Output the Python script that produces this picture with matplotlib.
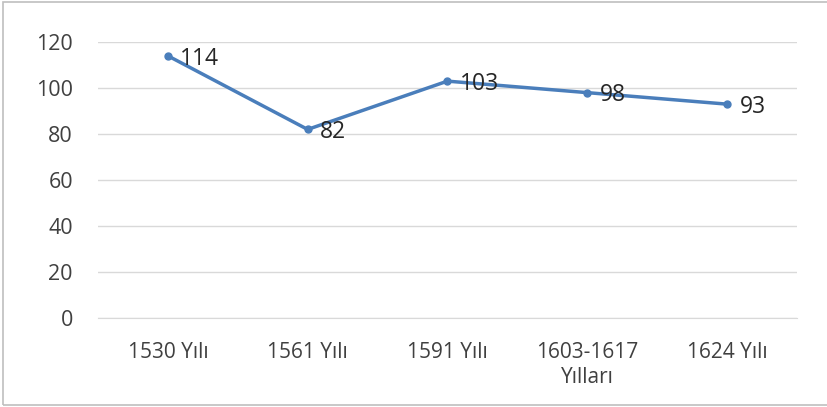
import matplotlib.pyplot as plt
from matplotlib.patches import Rectangle

categories = ["1530 Yılı", "1561 Yılı", "1591 Yılı", "1603-1617\nYılları", "1624 Yılı"]
values = [114, 82, 103, 98, 93]
y_ticks = [0, 20, 40, 60, 80, 100, 120]

plt.rcParams["font.family"] = ["Open Sans", "DejaVu Sans"]

fig = plt.figure(figsize=(8.27, 4.07), dpi=100)
ax = fig.add_axes([0.1185, 0.2187, 0.845, 0.678])

# outer chart frame
fig.patches.append(Rectangle((0.004, 0.005), 1.2, 0.99, transform=fig.transFigure,
                             fill=False, edgecolor="#bfbfbf", linewidth=1.2))

x = list(range(len(categories)))
ax.plot(x, values, color="#4a7ebb", linewidth=2.5, marker="o", markersize=5)

for xi, v in zip(x, values):
    ax.annotate(str(v), (xi, v), xytext=(9, -2), textcoords="offset points",
                ha="left", va="center", fontsize=16.5, color="#262626")

ax.set_xlim(-0.5, len(categories) - 0.5)
ax.set_ylim(0, 120)
ax.set_yticks(y_ticks)
ax.set_xticks(x)
ax.set_xticklabels(categories, fontsize=15, color="#404040", linespacing=1.3)
ax.tick_params(axis="y", labelsize=15.5, labelcolor="#404040", length=0, pad=18)
ax.tick_params(axis="x", length=0, pad=17)

ax.grid(axis="y", color="#d9d9d9", linewidth=1)
ax.set_axisbelow(True)
for side in ["top", "right", "left"]:
    ax.spines[side].set_visible(False)
ax.spines["bottom"].set_color("#d9d9d9")

fig.savefig("out.png", dpi=100)
